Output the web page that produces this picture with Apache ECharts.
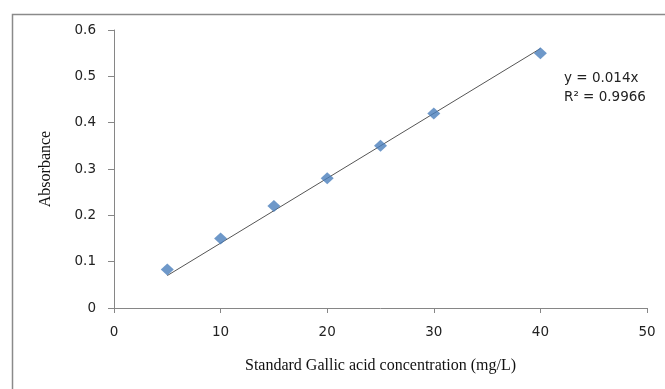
<!DOCTYPE html>
<html>
<head>
<meta charset="utf-8">
<script src="https://cdn.jsdelivr.net/npm/echarts@6/dist/echarts.min.js"></script>
<style>
  html, body { margin: 0; padding: 0; background: #fff; }
  #chart { width: 665px; height: 389px; }
</style>
</head>
<body>
<div id="chart"></div>
<script>
// gallic acid standard curve
const concentration = [5, 10, 15, 20, 25, 30, 40]
const absorbance = [0.083, 0.15, 0.22, 0.28, 0.35, 0.42, 0.55]
const slope = 0.014
const trendX = [5, 40]
const equationLines = ['y = 0.014x', 'R\u00b2 = 0.9966']

const chartDom = document.getElementById('chart')
const myChart = echarts.init(chartDom)

const axisGray = '#868686'
const labelFont = { color: '#222', fontFamily: 'DejaVu Sans', fontSize: 13.5 }

const option = {
    animation: false,
    grid: { left: 114, top: 30, right: 18, bottom: 81 },
    graphic: [
        {
            type: 'rect',
            left: 10, top: 12,
            shape: { width: 700, height: 420 },
            style: { fill: 'none', stroke: '#8a8a8a', lineWidth: 1.5 },
            silent: true
        },
        {
            type: 'text',
            left: 564, top: 69,
            style: {
                text: equationLines.join('\n'),
                fontFamily: 'DejaVu Sans',
                fontSize: 13.5,
                lineHeight: 19,
                fill: '#222'
            }
        }
    ],
    xAxis: {
        type: 'value',
        min: 0, max: 50, interval: 10,
        name: 'Standard Gallic acid concentration (mg/L)',
        nameLocation: 'middle',
        nameGap: 50,
        nameTextStyle: { fontFamily: 'Liberation Serif', fontSize: 16, color: '#111' },
        axisLine: { show: true, lineStyle: { color: axisGray } },
        axisTick: { show: true, length: 5, lineStyle: { color: axisGray } },
        axisLabel: { ...labelFont, margin: 17 },
        splitLine: { show: false }
    },
    yAxis: {
        type: 'value',
        min: 0, max: 0.6, interval: 0.1,
        name: 'Absorbance',
        nameLocation: 'middle',
        nameGap: 60,
        nameTextStyle: { fontFamily: 'Liberation Serif', fontSize: 16, color: '#111' },
        axisLine: { show: true, lineStyle: { color: axisGray } },
        axisTick: { show: true, length: 6, lineStyle: { color: axisGray } },
        axisLabel: { ...labelFont, margin: 18 },
        splitLine: { show: false }
    },
    series: [
        {
            name: 'Trend',
            type: 'line',
            data: trendX.map(x => [x, slope * x]),
            symbol: 'none',
            lineStyle: { color: '#555', width: 1 },
            z: 1
        },
        {
            name: 'Absorbance',
            type: 'scatter',
            data: concentration.map((x, i) => [x, absorbance[i]]),
            symbol: 'diamond',
            symbolSize: [13, 12],
            itemStyle: { color: '#4a7ebb' },
            z: 2
        }
    ]
}

myChart.setOption(option)
</script>
</body>
</html>
